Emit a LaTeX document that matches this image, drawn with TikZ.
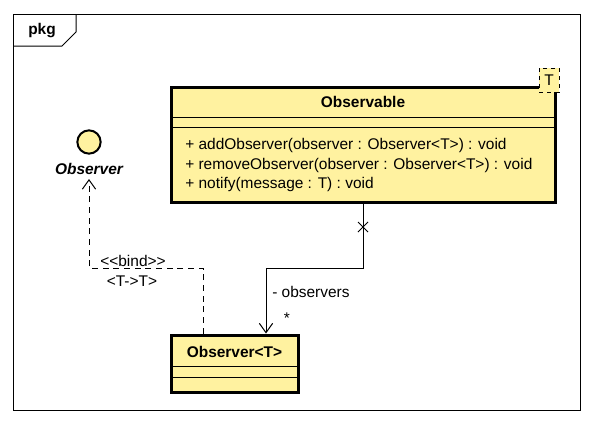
\documentclass[tikz,border=0pt]{standalone}
\usepackage{fontspec}
\setmainfont{Liberation Sans}
\usetikzlibrary{arrows.meta}
\definecolor{umlyellow}{RGB}{255,242,160}
\begin{document}
\begin{tikzpicture}[x=0.75pt,y=-0.75pt,
  classbox/.style={draw=black,line width=2.25pt,fill=umlyellow,inner sep=0pt},
  thinline/.style={draw=black,line width=0.75pt},
  txt/.style={font=\fontsize{11.6}{13}\selectfont,inner sep=0pt},
  bold/.style={font=\fontsize{11.6}{13}\selectfont\bfseries,inner sep=0pt},
  openarrow/.style={-{Straight Barb[length=7pt,width=10pt,line width=0.75pt]}}]
\useasboundingbox (0,0) rectangle (593,425);
\fill[white] (0,0) rectangle (593,425);
% frame
\draw[thinline] (13,14) rectangle (580,410);
\draw[thinline] (13,46) -- (62,46) -- (76,32) -- (76,14);
\node[bold] (pkg) at (42,31) {pkg};
% Observable class
\node[classbox,minimum width=288pt,minimum height=86.25pt] (obs) at (363,144.5) {};
\draw[thinline] (171,117) -- (555,117);
\draw[thinline] (171,127) -- (555,127);
\node[bold] (obsname) at (363,102) {Observable};
\node[txt,anchor=west] (m1) at (185,145) {+ addObserver(observer : Observer<T>) : void};
\node[txt,anchor=west] (m2) at (185,165) {+ removeObserver(observer : Observer<T>) : void};
\node[txt,anchor=west] (m3) at (185,184) {+ notify(message : T) : void};
\node[draw=black,dashed,line width=0.75pt,fill=umlyellow,minimum width=15pt,minimum height=18pt,inner sep=0pt,txt] (tparam) at (549,80) {T};
% Observer<T> class
\node[classbox,minimum width=95.25pt,minimum height=42.75pt] (obsT) at (234.5,363.5) {};
\draw[thinline] (171,366) -- (298,366);
\draw[thinline] (171,377) -- (298,377);
\node[bold] (obsTname) at (234.5,352) {Observer<T>};
% Observer interface
\node[circle,draw=black,line width=1.5pt,fill=umlyellow,minimum size=17.5pt,inner sep=0pt] (iface) at (89,142) {};
\node[font=\fontsize{11.6}{13}\selectfont\bfseries\itshape,inner sep=0pt] (ifacename) at (89,169) {Observer};
\coordinate (ifacearrow) at (89,179);
% realization (bind)
\coordinate (b1) at (203,268);
\coordinate (b2) at (89,268);
\draw[thinline,dash pattern=on 4.5pt off 3.5pt,openarrow] (obsT.north -| b1) -- (b1) -- (b2) -- (ifacearrow);
\node[txt] (bind) at (133,261) {<{}<bind>{}>};
\node[txt] (tmap) at (132,281) {<T->T>};
% association
\coordinate (a0) at (363,203.5);
\coordinate (a1) at (363,268);
\coordinate (a2) at (266,268);
\draw[thinline,openarrow] (a0) -- (a1) -- (a2) -- (obsT.north -| a2);
\coordinate (xm) at (363,227);
\draw[thinline] ([shift={(-5,-5)}]xm) -- ([shift={(5,5)}]xm);
\draw[thinline] ([shift={(-5,5)}]xm) -- ([shift={(5,-5)}]xm);
\node[txt,anchor=west] (role) at (272,292) {- observers};
\node[txt] (mult) at (287,318) {*};
\end{tikzpicture}
\end{document}
